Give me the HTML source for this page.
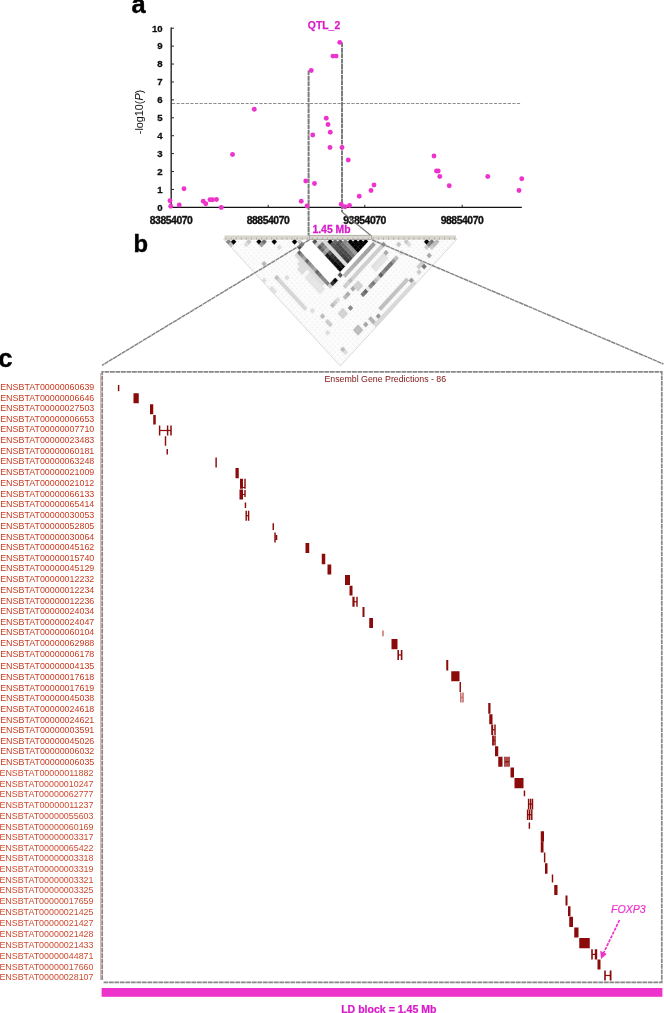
<!DOCTYPE html>
<html lang="en"><head><meta charset="utf-8"><title>QTL_2 LD block</title>
<style>html,body{margin:0;padding:0;background:#fff}svg{display:block}text{font-family:"Liberation Sans",sans-serif}</style>
</head><body>
<svg width="664" height="1013" viewBox="0 0 664 1013">
<rect width="664" height="1013" fill="#fff"/>
<g id="panel-a">
<text x="131.4" y="13.4" font-size="25.4" font-weight="bold" fill="#000" stroke="#000" stroke-width="0.4">a</text>
<line x1="171.2" y1="27.5" x2="171.2" y2="207.9" stroke="#333" stroke-width="1.5"/>
<line x1="170.5" y1="207.4" x2="521.8" y2="207.4" stroke="#111" stroke-width="1.4"/>
<text x="162.6" y="211" font-size="9.6" font-weight="bold" text-anchor="end" fill="#111" stroke="#111" stroke-width="0.3">0</text>
<line x1="171.2" y1="189.48" x2="174.0" y2="189.48" stroke="#222" stroke-width="1"/>
<text x="162.6" y="193" font-size="9.6" font-weight="bold" text-anchor="end" fill="#111" stroke="#111" stroke-width="0.3">1</text>
<line x1="171.2" y1="171.56" x2="174.0" y2="171.56" stroke="#222" stroke-width="1"/>
<text x="162.6" y="175" font-size="9.6" font-weight="bold" text-anchor="end" fill="#111" stroke="#111" stroke-width="0.3">2</text>
<line x1="171.2" y1="153.64" x2="174.0" y2="153.64" stroke="#222" stroke-width="1"/>
<text x="162.6" y="157" font-size="9.6" font-weight="bold" text-anchor="end" fill="#111" stroke="#111" stroke-width="0.3">3</text>
<line x1="171.2" y1="135.72" x2="174.0" y2="135.72" stroke="#222" stroke-width="1"/>
<text x="162.6" y="139" font-size="9.6" font-weight="bold" text-anchor="end" fill="#111" stroke="#111" stroke-width="0.3">4</text>
<line x1="171.2" y1="117.80" x2="174.0" y2="117.80" stroke="#222" stroke-width="1"/>
<text x="162.6" y="121" font-size="9.6" font-weight="bold" text-anchor="end" fill="#111" stroke="#111" stroke-width="0.3">5</text>
<line x1="171.2" y1="99.88" x2="174.0" y2="99.88" stroke="#222" stroke-width="1"/>
<text x="162.6" y="103" font-size="9.6" font-weight="bold" text-anchor="end" fill="#111" stroke="#111" stroke-width="0.3">6</text>
<line x1="171.2" y1="81.96" x2="174.0" y2="81.96" stroke="#222" stroke-width="1"/>
<text x="162.6" y="85" font-size="9.6" font-weight="bold" text-anchor="end" fill="#111" stroke="#111" stroke-width="0.3">7</text>
<line x1="171.2" y1="64.04" x2="174.0" y2="64.04" stroke="#222" stroke-width="1"/>
<text x="162.6" y="67" font-size="9.6" font-weight="bold" text-anchor="end" fill="#111" stroke="#111" stroke-width="0.3">8</text>
<line x1="171.2" y1="46.12" x2="174.0" y2="46.12" stroke="#222" stroke-width="1"/>
<text x="162.6" y="49" font-size="9.6" font-weight="bold" text-anchor="end" fill="#111" stroke="#111" stroke-width="0.3">9</text>
<line x1="171.2" y1="28.20" x2="174.0" y2="28.20" stroke="#222" stroke-width="1"/>
<text x="162.6" y="32" font-size="9.6" font-weight="bold" text-anchor="end" fill="#111" stroke="#111" stroke-width="0.3">10</text>
<text x="171.10000000000002" y="224.3" font-size="10.4" font-weight="bold" letter-spacing="-0.45" text-anchor="middle" fill="#111" stroke="#111" stroke-width="0.35">83854070</text>
<line x1="268.2" y1="207.4" x2="268.2" y2="204.8" stroke="#222" stroke-width="1"/>
<text x="268.0" y="224.3" font-size="10.4" font-weight="bold" letter-spacing="-0.45" text-anchor="middle" fill="#111" stroke="#111" stroke-width="0.35">88854070</text>
<line x1="364.8" y1="207.4" x2="364.8" y2="204.8" stroke="#222" stroke-width="1"/>
<text x="364.6" y="224.3" font-size="10.4" font-weight="bold" letter-spacing="-0.45" text-anchor="middle" fill="#111" stroke="#111" stroke-width="0.35">93854070</text>
<line x1="462.2" y1="207.4" x2="462.2" y2="204.8" stroke="#222" stroke-width="1"/>
<text x="462.0" y="224.3" font-size="10.4" font-weight="bold" letter-spacing="-0.45" text-anchor="middle" fill="#111" stroke="#111" stroke-width="0.35">98854070</text>
<text transform="translate(142.8,112) rotate(-90)" font-size="10.8" text-anchor="middle" fill="#111">-log10(<tspan font-style="italic">P</tspan>)</text>
<line x1="172.0" y1="103.5" x2="520.5" y2="103.5" stroke="#777" stroke-width="0.85" stroke-dasharray="3.1 1.5"/>
<line x1="308.6" y1="70.5" x2="308.6" y2="236" stroke="#7c7c7c" stroke-width="2" stroke-dasharray="4.8 0.6"/>
<line x1="342" y1="42.5" x2="342" y2="212" stroke="#7c7c7c" stroke-width="2" stroke-dasharray="4.8 0.6"/>
<line x1="342" y1="212" x2="371.5" y2="236" stroke="#777" stroke-width="1.2"/>
<circle cx="170" cy="200.75" r="2.45" fill="#ee33cc"/>
<circle cx="170.75" cy="206.25" r="2.45" fill="#ee33cc"/>
<circle cx="179.25" cy="205" r="2.45" fill="#ee33cc"/>
<circle cx="184" cy="188.75" r="2.45" fill="#ee33cc"/>
<circle cx="203.25" cy="201.25" r="2.45" fill="#ee33cc"/>
<circle cx="205.75" cy="203.75" r="2.45" fill="#ee33cc"/>
<circle cx="210" cy="199.75" r="2.45" fill="#ee33cc"/>
<circle cx="212.5" cy="199.75" r="2.45" fill="#ee33cc"/>
<circle cx="216.5" cy="199.5" r="2.45" fill="#ee33cc"/>
<circle cx="221.25" cy="207.5" r="2.45" fill="#ee33cc"/>
<circle cx="232.5" cy="154.5" r="2.45" fill="#ee33cc"/>
<circle cx="254.25" cy="109.25" r="2.45" fill="#ee33cc"/>
<circle cx="339.76" cy="42.4" r="2.45" fill="#ee33cc"/>
<circle cx="332.9" cy="56.1" r="2.45" fill="#ee33cc"/>
<circle cx="336.1" cy="56.1" r="2.45" fill="#ee33cc"/>
<circle cx="311.25" cy="70.5" r="2.45" fill="#ee33cc"/>
<circle cx="326.25" cy="118.25" r="2.45" fill="#ee33cc"/>
<circle cx="328" cy="124.5" r="2.45" fill="#ee33cc"/>
<circle cx="330.25" cy="132.25" r="2.45" fill="#ee33cc"/>
<circle cx="312.75" cy="135" r="2.45" fill="#ee33cc"/>
<circle cx="330" cy="147.5" r="2.45" fill="#ee33cc"/>
<circle cx="342" cy="147.5" r="2.45" fill="#ee33cc"/>
<circle cx="348.25" cy="160" r="2.45" fill="#ee33cc"/>
<circle cx="305.75" cy="181" r="2.45" fill="#ee33cc"/>
<circle cx="314.5" cy="183.5" r="2.45" fill="#ee33cc"/>
<circle cx="301.25" cy="201.25" r="2.45" fill="#ee33cc"/>
<circle cx="307" cy="206" r="2.45" fill="#ee33cc"/>
<circle cx="341.25" cy="204.25" r="2.45" fill="#ee33cc"/>
<circle cx="345" cy="206.75" r="2.45" fill="#ee33cc"/>
<circle cx="349.5" cy="205.5" r="2.45" fill="#ee33cc"/>
<circle cx="359.25" cy="196.25" r="2.45" fill="#ee33cc"/>
<circle cx="371" cy="190.5" r="2.45" fill="#ee33cc"/>
<circle cx="374" cy="185" r="2.45" fill="#ee33cc"/>
<circle cx="434" cy="156" r="2.45" fill="#ee33cc"/>
<circle cx="436.5" cy="171" r="2.45" fill="#ee33cc"/>
<circle cx="438.25" cy="171" r="2.45" fill="#ee33cc"/>
<circle cx="439.75" cy="176.5" r="2.45" fill="#ee33cc"/>
<circle cx="449.25" cy="185.75" r="2.45" fill="#ee33cc"/>
<circle cx="487.75" cy="176.5" r="2.45" fill="#ee33cc"/>
<circle cx="521.75" cy="178.75" r="2.45" fill="#ee33cc"/>
<circle cx="519" cy="190.5" r="2.45" fill="#ee33cc"/>
<text x="324" y="29.4" font-size="10.4" font-weight="bold" text-anchor="middle" fill="#d81cca" stroke="#d81cca" stroke-width="0.25">QTL_2</text>
<text x="331.5" y="232.5" font-size="10.4" font-weight="bold" text-anchor="middle" fill="#d81cca" stroke="#d81cca" stroke-width="0.3">1.45 Mb</text>
</g>
<g id="panel-b">
<text x="133.6" y="251.7" font-size="23.8" font-weight="bold" fill="#000" stroke="#000" stroke-width="0.4">b</text>
<defs><pattern id="dots" patternUnits="userSpaceOnUse" x="223.46" y="236.24" width="5.08" height="5.52"><rect width="5.08" height="5.52" fill="#fcfcfc"/><circle cx="2.54" cy="2.76" r="0.5" fill="#d6d6d6"/><circle cx="0" cy="0" r="0.5" fill="#d6d6d6"/><circle cx="5.08" cy="0" r="0.5" fill="#d6d6d6"/><circle cx="0" cy="5.52" r="0.5" fill="#d6d6d6"/><circle cx="5.08" cy="5.52" r="0.5" fill="#d6d6d6"/></pattern></defs>
<polygon points="223.5,239.0 457.1,239.0 340.3,366.0" fill="url(#dots)" stroke="#cfcfcf" stroke-width="0.8"/>
<polygon points="226.00,241.76 228.54,239.00 231.08,241.76 228.54,244.52" fill="#888888" stroke="#888888" stroke-width="0.35"/>
<polygon points="228.54,244.52 231.08,241.76 233.62,244.52 231.08,247.28" fill="#bbbbbb" stroke="#bbbbbb" stroke-width="0.35"/>
<polygon points="261.56,280.40 264.10,277.64 266.64,280.40 264.10,283.16" fill="#dddddd" stroke="#dddddd" stroke-width="0.35"/>
<polygon points="269.18,288.68 271.72,285.92 274.26,288.68 271.72,291.44" fill="#dddddd" stroke="#dddddd" stroke-width="0.35"/>
<polygon points="271.72,291.44 274.26,288.68 276.80,291.44 274.26,294.20" fill="#e0e0e0" stroke="#e0e0e0" stroke-width="0.35"/>
<polygon points="231.08,241.76 233.62,239.00 236.16,241.76 233.62,244.52" fill="#000000" stroke="#000000" stroke-width="0.35"/>
<polygon points="243.78,244.52 246.32,241.76 248.86,244.52 246.32,247.28" fill="#dddddd" stroke="#dddddd" stroke-width="0.35"/>
<polygon points="261.56,263.84 264.10,261.08 266.64,263.84 264.10,266.60" fill="#b8b8b8" stroke="#b8b8b8" stroke-width="0.35"/>
<polygon points="274.26,277.64 276.80,274.88 279.34,277.64 276.80,280.40" fill="#c0c0c0" stroke="#c0c0c0" stroke-width="0.35"/>
<polygon points="276.80,280.40 279.34,277.64 281.88,280.40 279.34,283.16" fill="#d4d4d4" stroke="#d4d4d4" stroke-width="0.35"/>
<polygon points="279.34,283.16 281.88,280.40 284.42,283.16 281.88,285.92" fill="#d4d4d4" stroke="#d4d4d4" stroke-width="0.35"/>
<polygon points="281.88,285.92 284.42,283.16 286.96,285.92 284.42,288.68" fill="#d4d4d4" stroke="#d4d4d4" stroke-width="0.35"/>
<polygon points="284.42,288.68 286.96,285.92 289.50,288.68 286.96,291.44" fill="#d5d5d5" stroke="#d5d5d5" stroke-width="0.35"/>
<polygon points="286.96,291.44 289.50,288.68 292.04,291.44 289.50,294.20" fill="#d5d5d5" stroke="#d5d5d5" stroke-width="0.35"/>
<polygon points="289.50,294.20 292.04,291.44 294.58,294.20 292.04,296.96" fill="#d5d5d5" stroke="#d5d5d5" stroke-width="0.35"/>
<polygon points="292.04,296.96 294.58,294.20 297.12,296.96 294.58,299.72" fill="#d5d5d5" stroke="#d5d5d5" stroke-width="0.35"/>
<polygon points="294.58,299.72 297.12,296.96 299.66,299.72 297.12,302.48" fill="#d5d5d5" stroke="#d5d5d5" stroke-width="0.35"/>
<polygon points="297.12,302.48 299.66,299.72 302.20,302.48 299.66,305.24" fill="#d6d6d6" stroke="#d6d6d6" stroke-width="0.35"/>
<polygon points="299.66,305.24 302.20,302.48 304.74,305.24 302.20,308.00" fill="#d6d6d6" stroke="#d6d6d6" stroke-width="0.35"/>
<polygon points="302.20,308.00 304.74,305.24 307.28,308.00 304.74,310.76" fill="#d6d6d6" stroke="#d6d6d6" stroke-width="0.35"/>
<polygon points="325.06,332.84 327.60,330.08 330.14,332.84 327.60,335.60" fill="#dddddd" stroke="#dddddd" stroke-width="0.35"/>
<polygon points="340.30,349.40 342.84,346.64 345.38,349.40 342.84,352.16" fill="#bbbbbb" stroke="#bbbbbb" stroke-width="0.35"/>
<polygon points="342.84,352.16 345.38,349.40 347.92,352.16 345.38,354.92" fill="#dddddd" stroke="#dddddd" stroke-width="0.35"/>
<polygon points="246.32,241.76 248.86,239.00 251.40,241.76 248.86,244.52" fill="#c8c8c8" stroke="#c8c8c8" stroke-width="0.35"/>
<polygon points="309.82,310.76 312.36,308.00 314.90,310.76 312.36,313.52" fill="#dddddd" stroke="#dddddd" stroke-width="0.35"/>
<polygon points="284.42,277.64 286.96,274.88 289.50,277.64 286.96,280.40" fill="#dddddd" stroke="#dddddd" stroke-width="0.35"/>
<polygon points="319.98,316.28 322.52,313.52 325.06,316.28 322.52,319.04" fill="#bbbbbb" stroke="#bbbbbb" stroke-width="0.35"/>
<polygon points="325.06,321.80 327.60,319.04 330.14,321.80 327.60,324.56" fill="#cccccc" stroke="#cccccc" stroke-width="0.35"/>
<polygon points="327.60,324.56 330.14,321.80 332.68,324.56 330.14,327.32" fill="#cccccc" stroke="#cccccc" stroke-width="0.35"/>
<polygon points="256.48,241.76 259.02,239.00 261.56,241.76 259.02,244.52" fill="#000000" stroke="#000000" stroke-width="0.35"/>
<polygon points="259.02,244.52 261.56,241.76 264.10,244.52 261.56,247.28" fill="#999999" stroke="#999999" stroke-width="0.35"/>
<polygon points="261.56,241.76 264.10,239.00 266.64,241.76 264.10,244.52" fill="#707070" stroke="#707070" stroke-width="0.35"/>
<polygon points="271.72,241.76 274.26,239.00 276.80,241.76 274.26,244.52" fill="#000000" stroke="#000000" stroke-width="0.35"/>
<polygon points="276.80,247.28 279.34,244.52 281.88,247.28 279.34,250.04" fill="#dddddd" stroke="#dddddd" stroke-width="0.35"/>
<polygon points="297.12,269.36 299.66,266.60 302.20,269.36 299.66,272.12" fill="#dcdcdc" stroke="#dcdcdc" stroke-width="0.35"/>
<polygon points="299.66,272.12 302.20,269.36 304.74,272.12 302.20,274.88" fill="#dcdcdc" stroke="#dcdcdc" stroke-width="0.35"/>
<polygon points="304.74,277.64 307.28,274.88 309.82,277.64 307.28,280.40" fill="#e4e4e4" stroke="#e4e4e4" stroke-width="0.35"/>
<polygon points="307.28,280.40 309.82,277.64 312.36,280.40 309.82,283.16" fill="#e4e4e4" stroke="#e4e4e4" stroke-width="0.35"/>
<polygon points="309.82,283.16 312.36,280.40 314.90,283.16 312.36,285.92" fill="#e4e4e4" stroke="#e4e4e4" stroke-width="0.35"/>
<polygon points="312.36,285.92 314.90,283.16 317.44,285.92 314.90,288.68" fill="#e4e4e4" stroke="#e4e4e4" stroke-width="0.35"/>
<polygon points="314.90,288.68 317.44,285.92 319.98,288.68 317.44,291.44" fill="#e4e4e4" stroke="#e4e4e4" stroke-width="0.35"/>
<polygon points="317.44,291.44 319.98,288.68 322.52,291.44 319.98,294.20" fill="#e4e4e4" stroke="#e4e4e4" stroke-width="0.35"/>
<polygon points="330.14,305.24 332.68,302.48 335.22,305.24 332.68,308.00" fill="#bbbbbb" stroke="#bbbbbb" stroke-width="0.35"/>
<polygon points="337.76,313.52 340.30,310.76 342.84,313.52 340.30,316.28" fill="#d2d2d2" stroke="#d2d2d2" stroke-width="0.35"/>
<polygon points="340.30,316.28 342.84,313.52 345.38,316.28 342.84,319.04" fill="#d2d2d2" stroke="#d2d2d2" stroke-width="0.35"/>
<polygon points="353.00,330.08 355.54,327.32 358.08,330.08 355.54,332.84" fill="#bbbbbb" stroke="#bbbbbb" stroke-width="0.35"/>
<polygon points="355.54,332.84 358.08,330.08 360.62,332.84 358.08,335.60" fill="#bbbbbb" stroke="#bbbbbb" stroke-width="0.35"/>
<polygon points="297.12,263.84 299.66,261.08 302.20,263.84 299.66,266.60" fill="#dcdcdc" stroke="#dcdcdc" stroke-width="0.35"/>
<polygon points="299.66,266.60 302.20,263.84 304.74,266.60 302.20,269.36" fill="#dcdcdc" stroke="#dcdcdc" stroke-width="0.35"/>
<polygon points="302.20,269.36 304.74,266.60 307.28,269.36 304.74,272.12" fill="#dcdcdc" stroke="#dcdcdc" stroke-width="0.35"/>
<polygon points="307.28,274.88 309.82,272.12 312.36,274.88 309.82,277.64" fill="#e4e4e4" stroke="#e4e4e4" stroke-width="0.35"/>
<polygon points="309.82,277.64 312.36,274.88 314.90,277.64 312.36,280.40" fill="#e4e4e4" stroke="#e4e4e4" stroke-width="0.35"/>
<polygon points="312.36,280.40 314.90,277.64 317.44,280.40 314.90,283.16" fill="#e4e4e4" stroke="#e4e4e4" stroke-width="0.35"/>
<polygon points="314.90,283.16 317.44,280.40 319.98,283.16 317.44,285.92" fill="#e4e4e4" stroke="#e4e4e4" stroke-width="0.35"/>
<polygon points="317.44,285.92 319.98,283.16 322.52,285.92 319.98,288.68" fill="#e4e4e4" stroke="#e4e4e4" stroke-width="0.35"/>
<polygon points="319.98,288.68 322.52,285.92 325.06,288.68 322.52,291.44" fill="#e4e4e4" stroke="#e4e4e4" stroke-width="0.35"/>
<polygon points="332.68,302.48 335.22,299.72 337.76,302.48 335.22,305.24" fill="#cccccc" stroke="#cccccc" stroke-width="0.35"/>
<polygon points="340.30,310.76 342.84,308.00 345.38,310.76 342.84,313.52" fill="#d2d2d2" stroke="#d2d2d2" stroke-width="0.35"/>
<polygon points="342.84,313.52 345.38,310.76 347.92,313.52 345.38,316.28" fill="#d2d2d2" stroke="#d2d2d2" stroke-width="0.35"/>
<polygon points="355.54,327.32 358.08,324.56 360.62,327.32 358.08,330.08" fill="#bbbbbb" stroke="#bbbbbb" stroke-width="0.35"/>
<polygon points="358.08,330.08 360.62,327.32 363.16,330.08 360.62,332.84" fill="#bbbbbb" stroke="#bbbbbb" stroke-width="0.35"/>
<polygon points="294.58,255.56 297.12,252.80 299.66,255.56 297.12,258.32" fill="#d8d8d8" stroke="#d8d8d8" stroke-width="0.35"/>
<polygon points="297.12,258.32 299.66,255.56 302.20,258.32 299.66,261.08" fill="#d8d8d8" stroke="#d8d8d8" stroke-width="0.35"/>
<polygon points="299.66,261.08 302.20,258.32 304.74,261.08 302.20,263.84" fill="#d9d9d9" stroke="#d9d9d9" stroke-width="0.35"/>
<polygon points="302.20,263.84 304.74,261.08 307.28,263.84 304.74,266.60" fill="#d9d9d9" stroke="#d9d9d9" stroke-width="0.35"/>
<polygon points="304.74,266.60 307.28,263.84 309.82,266.60 307.28,269.36" fill="#dadada" stroke="#dadada" stroke-width="0.35"/>
<polygon points="307.28,269.36 309.82,266.60 312.36,269.36 309.82,272.12" fill="#dadada" stroke="#dadada" stroke-width="0.35"/>
<polygon points="309.82,272.12 312.36,269.36 314.90,272.12 312.36,274.88" fill="#dadada" stroke="#dadada" stroke-width="0.35"/>
<polygon points="312.36,274.88 314.90,272.12 317.44,274.88 314.90,277.64" fill="#dbdbdb" stroke="#dbdbdb" stroke-width="0.35"/>
<polygon points="314.90,277.64 317.44,274.88 319.98,277.64 317.44,280.40" fill="#dbdbdb" stroke="#dbdbdb" stroke-width="0.35"/>
<polygon points="317.44,280.40 319.98,277.64 322.52,280.40 319.98,283.16" fill="#dcdcdc" stroke="#dcdcdc" stroke-width="0.35"/>
<polygon points="319.98,283.16 322.52,280.40 325.06,283.16 322.52,285.92" fill="#dcdcdc" stroke="#dcdcdc" stroke-width="0.35"/>
<polygon points="335.22,299.72 337.76,296.96 340.30,299.72 337.76,302.48" fill="#dddddd" stroke="#dddddd" stroke-width="0.35"/>
<polygon points="297.12,252.80 299.66,250.04 302.20,252.80 299.66,255.56" fill="#666666" stroke="#666666" stroke-width="0.35"/>
<polygon points="299.66,255.56 302.20,252.80 304.74,255.56 302.20,258.32" fill="#888888" stroke="#888888" stroke-width="0.35"/>
<polygon points="302.20,258.32 304.74,255.56 307.28,258.32 304.74,261.08" fill="#a4a4a4" stroke="#a4a4a4" stroke-width="0.35"/>
<polygon points="304.74,261.08 307.28,258.32 309.82,261.08 307.28,263.84" fill="#666666" stroke="#666666" stroke-width="0.35"/>
<polygon points="307.28,263.84 309.82,261.08 312.36,263.84 309.82,266.60" fill="#888888" stroke="#888888" stroke-width="0.35"/>
<polygon points="309.82,266.60 312.36,263.84 314.90,266.60 312.36,269.36" fill="#999999" stroke="#999999" stroke-width="0.35"/>
<polygon points="312.36,269.36 314.90,266.60 317.44,269.36 314.90,272.12" fill="#a4a4a4" stroke="#a4a4a4" stroke-width="0.35"/>
<polygon points="314.90,272.12 317.44,269.36 319.98,272.12 317.44,274.88" fill="#666666" stroke="#666666" stroke-width="0.35"/>
<polygon points="317.44,274.88 319.98,272.12 322.52,274.88 319.98,277.64" fill="#777777" stroke="#777777" stroke-width="0.35"/>
<polygon points="319.98,277.64 322.52,274.88 325.06,277.64 322.52,280.40" fill="#888888" stroke="#888888" stroke-width="0.35"/>
<polygon points="322.52,280.40 325.06,277.64 327.60,280.40 325.06,283.16" fill="#888888" stroke="#888888" stroke-width="0.35"/>
<polygon points="325.06,283.16 327.60,280.40 330.14,283.16 327.60,285.92" fill="#808080" stroke="#808080" stroke-width="0.35"/>
<polygon points="327.60,285.92 330.14,283.16 332.68,285.92 330.14,288.68" fill="#cccccc" stroke="#cccccc" stroke-width="0.35"/>
<polygon points="347.92,308.00 350.46,305.24 353.00,308.00 350.46,310.76" fill="#888888" stroke="#888888" stroke-width="0.35"/>
<polygon points="363.16,324.56 365.70,321.80 368.24,324.56 365.70,327.32" fill="#a4a4a4" stroke="#a4a4a4" stroke-width="0.35"/>
<polygon points="292.04,241.76 294.58,239.00 297.12,241.76 294.58,244.52" fill="#000000" stroke="#000000" stroke-width="0.35"/>
<polygon points="297.12,247.28 299.66,244.52 302.20,247.28 299.66,250.04" fill="#484848" stroke="#484848" stroke-width="0.35"/>
<polygon points="299.66,250.04 302.20,247.28 304.74,250.04 302.20,252.80" fill="#ffffff" stroke="#ffffff" stroke-width="0.35"/>
<polygon points="302.20,252.80 304.74,250.04 307.28,252.80 304.74,255.56" fill="#ffffff" stroke="#ffffff" stroke-width="0.35"/>
<polygon points="304.74,255.56 307.28,252.80 309.82,255.56 307.28,258.32" fill="#ffffff" stroke="#ffffff" stroke-width="0.35"/>
<polygon points="307.28,258.32 309.82,255.56 312.36,258.32 309.82,261.08" fill="#ffffff" stroke="#ffffff" stroke-width="0.35"/>
<polygon points="309.82,261.08 312.36,258.32 314.90,261.08 312.36,263.84" fill="#ffffff" stroke="#ffffff" stroke-width="0.35"/>
<polygon points="312.36,263.84 314.90,261.08 317.44,263.84 314.90,266.60" fill="#ffffff" stroke="#ffffff" stroke-width="0.35"/>
<polygon points="314.90,266.60 317.44,263.84 319.98,266.60 317.44,269.36" fill="#ffffff" stroke="#ffffff" stroke-width="0.35"/>
<polygon points="317.44,269.36 319.98,266.60 322.52,269.36 319.98,272.12" fill="#ffffff" stroke="#ffffff" stroke-width="0.35"/>
<polygon points="319.98,272.12 322.52,269.36 325.06,272.12 322.52,274.88" fill="#ffffff" stroke="#ffffff" stroke-width="0.35"/>
<polygon points="322.52,274.88 325.06,272.12 327.60,274.88 325.06,277.64" fill="#ffffff" stroke="#ffffff" stroke-width="0.35"/>
<polygon points="325.06,277.64 327.60,274.88 330.14,277.64 327.60,280.40" fill="#ffffff" stroke="#ffffff" stroke-width="0.35"/>
<polygon points="327.60,280.40 330.14,277.64 332.68,280.40 330.14,283.16" fill="#ffffff" stroke="#ffffff" stroke-width="0.35"/>
<polygon points="330.14,283.16 332.68,280.40 335.22,283.16 332.68,285.92" fill="#303030" stroke="#303030" stroke-width="0.35"/>
<polygon points="342.84,296.96 345.38,294.20 347.92,296.96 345.38,299.72" fill="#bbbbbb" stroke="#bbbbbb" stroke-width="0.35"/>
<polygon points="297.12,241.76 299.66,239.00 302.20,241.76 299.66,244.52" fill="#c8c8c8" stroke="#c8c8c8" stroke-width="0.35"/>
<polygon points="299.66,244.52 302.20,241.76 304.74,244.52 302.20,247.28" fill="#707070" stroke="#707070" stroke-width="0.35"/>
<polygon points="302.20,247.28 304.74,244.52 307.28,247.28 304.74,250.04" fill="#ffffff" stroke="#ffffff" stroke-width="0.35"/>
<polygon points="304.74,250.04 307.28,247.28 309.82,250.04 307.28,252.80" fill="#ffffff" stroke="#ffffff" stroke-width="0.35"/>
<polygon points="307.28,252.80 309.82,250.04 312.36,252.80 309.82,255.56" fill="#ffffff" stroke="#ffffff" stroke-width="0.35"/>
<polygon points="309.82,255.56 312.36,252.80 314.90,255.56 312.36,258.32" fill="#ffffff" stroke="#ffffff" stroke-width="0.35"/>
<polygon points="312.36,258.32 314.90,255.56 317.44,258.32 314.90,261.08" fill="#ffffff" stroke="#ffffff" stroke-width="0.35"/>
<polygon points="314.90,261.08 317.44,258.32 319.98,261.08 317.44,263.84" fill="#ffffff" stroke="#ffffff" stroke-width="0.35"/>
<polygon points="317.44,263.84 319.98,261.08 322.52,263.84 319.98,266.60" fill="#ffffff" stroke="#ffffff" stroke-width="0.35"/>
<polygon points="319.98,266.60 322.52,263.84 325.06,266.60 322.52,269.36" fill="#ffffff" stroke="#ffffff" stroke-width="0.35"/>
<polygon points="322.52,269.36 325.06,266.60 327.60,269.36 325.06,272.12" fill="#ffffff" stroke="#ffffff" stroke-width="0.35"/>
<polygon points="325.06,272.12 327.60,269.36 330.14,272.12 327.60,274.88" fill="#ffffff" stroke="#ffffff" stroke-width="0.35"/>
<polygon points="327.60,274.88 330.14,272.12 332.68,274.88 330.14,277.64" fill="#ffffff" stroke="#ffffff" stroke-width="0.35"/>
<polygon points="330.14,277.64 332.68,274.88 335.22,277.64 332.68,280.40" fill="#ffffff" stroke="#ffffff" stroke-width="0.35"/>
<polygon points="332.68,280.40 335.22,277.64 337.76,280.40 335.22,283.16" fill="#080808" stroke="#080808" stroke-width="0.35"/>
<polygon points="345.38,294.20 347.92,291.44 350.46,294.20 347.92,296.96" fill="#aaaaaa" stroke="#aaaaaa" stroke-width="0.35"/>
<polygon points="368.24,319.04 370.78,316.28 373.32,319.04 370.78,321.80" fill="#b4b4b4" stroke="#b4b4b4" stroke-width="0.35"/>
<polygon points="370.78,321.80 373.32,319.04 375.86,321.80 373.32,324.56" fill="#b4b4b4" stroke="#b4b4b4" stroke-width="0.35"/>
<polygon points="373.32,324.56 375.86,321.80 378.40,324.56 375.86,327.32" fill="#d8d8d8" stroke="#d8d8d8" stroke-width="0.35"/>
<polygon points="302.20,241.76 304.74,239.00 307.28,241.76 304.74,244.52" fill="#ffffff" stroke="#ffffff" stroke-width="0.35"/>
<polygon points="304.74,244.52 307.28,241.76 309.82,244.52 307.28,247.28" fill="#ffffff" stroke="#ffffff" stroke-width="0.35"/>
<polygon points="307.28,247.28 309.82,244.52 312.36,247.28 309.82,250.04" fill="#ffffff" stroke="#ffffff" stroke-width="0.35"/>
<polygon points="309.82,250.04 312.36,247.28 314.90,250.04 312.36,252.80" fill="#ffffff" stroke="#ffffff" stroke-width="0.35"/>
<polygon points="312.36,252.80 314.90,250.04 317.44,252.80 314.90,255.56" fill="#ffffff" stroke="#ffffff" stroke-width="0.35"/>
<polygon points="314.90,255.56 317.44,252.80 319.98,255.56 317.44,258.32" fill="#ffffff" stroke="#ffffff" stroke-width="0.35"/>
<polygon points="317.44,258.32 319.98,255.56 322.52,258.32 319.98,261.08" fill="#ffffff" stroke="#ffffff" stroke-width="0.35"/>
<polygon points="319.98,261.08 322.52,258.32 325.06,261.08 322.52,263.84" fill="#ffffff" stroke="#ffffff" stroke-width="0.35"/>
<polygon points="322.52,263.84 325.06,261.08 327.60,263.84 325.06,266.60" fill="#ffffff" stroke="#ffffff" stroke-width="0.35"/>
<polygon points="325.06,266.60 327.60,263.84 330.14,266.60 327.60,269.36" fill="#ffffff" stroke="#ffffff" stroke-width="0.35"/>
<polygon points="327.60,269.36 330.14,266.60 332.68,269.36 330.14,272.12" fill="#ffffff" stroke="#ffffff" stroke-width="0.35"/>
<polygon points="330.14,272.12 332.68,269.36 335.22,272.12 332.68,274.88" fill="#ffffff" stroke="#ffffff" stroke-width="0.35"/>
<polygon points="332.68,274.88 335.22,272.12 337.76,274.88 335.22,277.64" fill="#ffffff" stroke="#ffffff" stroke-width="0.35"/>
<polygon points="342.84,285.92 345.38,283.16 347.92,285.92 345.38,288.68" fill="#cccccc" stroke="#cccccc" stroke-width="0.35"/>
<polygon points="375.86,321.80 378.40,319.04 380.94,321.80 378.40,324.56" fill="#d8d8d8" stroke="#d8d8d8" stroke-width="0.35"/>
<polygon points="307.28,241.76 309.82,239.00 312.36,241.76 309.82,244.52" fill="#ffffff" stroke="#ffffff" stroke-width="0.35"/>
<polygon points="309.82,244.52 312.36,241.76 314.90,244.52 312.36,247.28" fill="#ffffff" stroke="#ffffff" stroke-width="0.35"/>
<polygon points="312.36,247.28 314.90,244.52 317.44,247.28 314.90,250.04" fill="#ffffff" stroke="#ffffff" stroke-width="0.35"/>
<polygon points="314.90,250.04 317.44,247.28 319.98,250.04 317.44,252.80" fill="#ffffff" stroke="#ffffff" stroke-width="0.35"/>
<polygon points="317.44,252.80 319.98,250.04 322.52,252.80 319.98,255.56" fill="#ffffff" stroke="#ffffff" stroke-width="0.35"/>
<polygon points="319.98,255.56 322.52,252.80 325.06,255.56 322.52,258.32" fill="#ffffff" stroke="#ffffff" stroke-width="0.35"/>
<polygon points="322.52,258.32 325.06,255.56 327.60,258.32 325.06,261.08" fill="#ffffff" stroke="#ffffff" stroke-width="0.35"/>
<polygon points="325.06,261.08 327.60,258.32 330.14,261.08 327.60,263.84" fill="#ffffff" stroke="#ffffff" stroke-width="0.35"/>
<polygon points="327.60,263.84 330.14,261.08 332.68,263.84 330.14,266.60" fill="#ffffff" stroke="#ffffff" stroke-width="0.35"/>
<polygon points="330.14,266.60 332.68,263.84 335.22,266.60 332.68,269.36" fill="#ffffff" stroke="#ffffff" stroke-width="0.35"/>
<polygon points="332.68,269.36 335.22,266.60 337.76,269.36 335.22,272.12" fill="#ffffff" stroke="#ffffff" stroke-width="0.35"/>
<polygon points="335.22,272.12 337.76,269.36 340.30,272.12 337.76,274.88" fill="#ffffff" stroke="#ffffff" stroke-width="0.35"/>
<polygon points="337.76,274.88 340.30,272.12 342.84,274.88 340.30,277.64" fill="#555555" stroke="#555555" stroke-width="0.35"/>
<polygon points="345.38,283.16 347.92,280.40 350.46,283.16 347.92,285.92" fill="#d0d0d0" stroke="#d0d0d0" stroke-width="0.35"/>
<polygon points="350.46,288.68 353.00,285.92 355.54,288.68 353.00,291.44" fill="#aaaaaa" stroke="#aaaaaa" stroke-width="0.35"/>
<polygon points="375.86,316.28 378.40,313.52 380.94,316.28 378.40,319.04" fill="#999999" stroke="#999999" stroke-width="0.35"/>
<polygon points="378.40,319.04 380.94,316.28 383.48,319.04 380.94,321.80" fill="#d8d8d8" stroke="#d8d8d8" stroke-width="0.35"/>
<polygon points="312.36,241.76 314.90,239.00 317.44,241.76 314.90,244.52" fill="#555555" stroke="#555555" stroke-width="0.35"/>
<polygon points="314.90,244.52 317.44,241.76 319.98,244.52 317.44,247.28" fill="#cccccc" stroke="#cccccc" stroke-width="0.35"/>
<polygon points="317.44,247.28 319.98,244.52 322.52,247.28 319.98,250.04" fill="#555555" stroke="#555555" stroke-width="0.35"/>
<polygon points="319.98,250.04 322.52,247.28 325.06,250.04 322.52,252.80" fill="#6a6a6a" stroke="#6a6a6a" stroke-width="0.35"/>
<polygon points="322.52,252.80 325.06,250.04 327.60,252.80 325.06,255.56" fill="#999999" stroke="#999999" stroke-width="0.35"/>
<polygon points="325.06,255.56 327.60,252.80 330.14,255.56 327.60,258.32" fill="#1a1a1a" stroke="#1a1a1a" stroke-width="0.35"/>
<polygon points="327.60,258.32 330.14,255.56 332.68,258.32 330.14,261.08" fill="#151515" stroke="#151515" stroke-width="0.35"/>
<polygon points="330.14,261.08 332.68,258.32 335.22,261.08 332.68,263.84" fill="#101010" stroke="#101010" stroke-width="0.35"/>
<polygon points="332.68,263.84 335.22,261.08 337.76,263.84 335.22,266.60" fill="#0a0a0a" stroke="#0a0a0a" stroke-width="0.35"/>
<polygon points="335.22,266.60 337.76,263.84 340.30,266.60 337.76,269.36" fill="#050505" stroke="#050505" stroke-width="0.35"/>
<polygon points="337.76,269.36 340.30,266.60 342.84,269.36 340.30,272.12" fill="#000000" stroke="#000000" stroke-width="0.35"/>
<polygon points="340.30,272.12 342.84,269.36 345.38,272.12 342.84,274.88" fill="#ffffff" stroke="#ffffff" stroke-width="0.35"/>
<polygon points="342.84,274.88 345.38,272.12 347.92,274.88 345.38,277.64" fill="#b8b8b8" stroke="#b8b8b8" stroke-width="0.35"/>
<polygon points="347.92,280.40 350.46,277.64 353.00,280.40 350.46,283.16" fill="#bbbbbb" stroke="#bbbbbb" stroke-width="0.35"/>
<polygon points="353.00,285.92 355.54,283.16 358.08,285.92 355.54,288.68" fill="#d0d0d0" stroke="#d0d0d0" stroke-width="0.35"/>
<polygon points="355.54,288.68 358.08,285.92 360.62,288.68 358.08,291.44" fill="#d0d0d0" stroke="#d0d0d0" stroke-width="0.35"/>
<polygon points="360.62,294.20 363.16,291.44 365.70,294.20 363.16,296.96" fill="#777777" stroke="#777777" stroke-width="0.35"/>
<polygon points="380.94,316.28 383.48,313.52 386.02,316.28 383.48,319.04" fill="#d8d8d8" stroke="#d8d8d8" stroke-width="0.35"/>
<polygon points="317.44,241.76 319.98,239.00 322.52,241.76 319.98,244.52" fill="#dddddd" stroke="#dddddd" stroke-width="0.35"/>
<polygon points="319.98,244.52 322.52,241.76 325.06,244.52 322.52,247.28" fill="#777777" stroke="#777777" stroke-width="0.35"/>
<polygon points="322.52,247.28 325.06,244.52 327.60,247.28 325.06,250.04" fill="#8a8a8a" stroke="#8a8a8a" stroke-width="0.35"/>
<polygon points="325.06,250.04 327.60,247.28 330.14,250.04 327.60,252.80" fill="#aaaaaa" stroke="#aaaaaa" stroke-width="0.35"/>
<polygon points="327.60,252.80 330.14,250.04 332.68,252.80 330.14,255.56" fill="#555555" stroke="#555555" stroke-width="0.35"/>
<polygon points="330.14,255.56 332.68,252.80 335.22,255.56 332.68,258.32" fill="#333333" stroke="#333333" stroke-width="0.35"/>
<polygon points="332.68,258.32 335.22,255.56 337.76,258.32 335.22,261.08" fill="#2a2a2a" stroke="#2a2a2a" stroke-width="0.35"/>
<polygon points="335.22,261.08 337.76,258.32 340.30,261.08 337.76,263.84" fill="#222222" stroke="#222222" stroke-width="0.35"/>
<polygon points="337.76,263.84 340.30,261.08 342.84,263.84 340.30,266.60" fill="#191919" stroke="#191919" stroke-width="0.35"/>
<polygon points="340.30,266.60 342.84,263.84 345.38,266.60 342.84,269.36" fill="#101010" stroke="#101010" stroke-width="0.35"/>
<polygon points="342.84,269.36 345.38,266.60 347.92,269.36 345.38,272.12" fill="#ffffff" stroke="#ffffff" stroke-width="0.35"/>
<polygon points="345.38,272.12 347.92,269.36 350.46,272.12 347.92,274.88" fill="#b5b5b5" stroke="#b5b5b5" stroke-width="0.35"/>
<polygon points="350.46,277.64 353.00,274.88 355.54,277.64 353.00,280.40" fill="#cfcfcf" stroke="#cfcfcf" stroke-width="0.35"/>
<polygon points="355.54,283.16 358.08,280.40 360.62,283.16 358.08,285.92" fill="#d0d0d0" stroke="#d0d0d0" stroke-width="0.35"/>
<polygon points="358.08,285.92 360.62,283.16 363.16,285.92 360.62,288.68" fill="#d0d0d0" stroke="#d0d0d0" stroke-width="0.35"/>
<polygon points="363.16,291.44 365.70,288.68 368.24,291.44 365.70,294.20" fill="#666666" stroke="#666666" stroke-width="0.35"/>
<polygon points="378.40,308.00 380.94,305.24 383.48,308.00 380.94,310.76" fill="#bcbcbc" stroke="#bcbcbc" stroke-width="0.35"/>
<polygon points="383.48,313.52 386.02,310.76 388.56,313.52 386.02,316.28" fill="#d8d8d8" stroke="#d8d8d8" stroke-width="0.35"/>
<polygon points="322.52,241.76 325.06,239.00 327.60,241.76 325.06,244.52" fill="#d8d8d8" stroke="#d8d8d8" stroke-width="0.35"/>
<polygon points="325.06,244.52 327.60,241.76 330.14,244.52 327.60,247.28" fill="#d8d8d8" stroke="#d8d8d8" stroke-width="0.35"/>
<polygon points="327.60,247.28 330.14,244.52 332.68,247.28 330.14,250.04" fill="#d9d9d9" stroke="#d9d9d9" stroke-width="0.35"/>
<polygon points="330.14,250.04 332.68,247.28 335.22,250.04 332.68,252.80" fill="#dadada" stroke="#dadada" stroke-width="0.35"/>
<polygon points="332.68,252.80 335.22,250.04 337.76,252.80 335.22,255.56" fill="#dadada" stroke="#dadada" stroke-width="0.35"/>
<polygon points="335.22,255.56 337.76,252.80 340.30,255.56 337.76,258.32" fill="#dadada" stroke="#dadada" stroke-width="0.35"/>
<polygon points="337.76,258.32 340.30,255.56 342.84,258.32 340.30,261.08" fill="#dbdbdb" stroke="#dbdbdb" stroke-width="0.35"/>
<polygon points="340.30,261.08 342.84,258.32 345.38,261.08 342.84,263.84" fill="#dcdcdc" stroke="#dcdcdc" stroke-width="0.35"/>
<polygon points="342.84,263.84 345.38,261.08 347.92,263.84 345.38,266.60" fill="#dcdcdc" stroke="#dcdcdc" stroke-width="0.35"/>
<polygon points="345.38,266.60 347.92,263.84 350.46,266.60 347.92,269.36" fill="#ffffff" stroke="#ffffff" stroke-width="0.35"/>
<polygon points="347.92,269.36 350.46,266.60 353.00,269.36 350.46,272.12" fill="#b2b2b2" stroke="#b2b2b2" stroke-width="0.35"/>
<polygon points="353.00,274.88 355.54,272.12 358.08,274.88 355.54,277.64" fill="#cfcfcf" stroke="#cfcfcf" stroke-width="0.35"/>
<polygon points="365.70,288.68 368.24,285.92 370.78,288.68 368.24,291.44" fill="#e8e8e8" stroke="#e8e8e8" stroke-width="0.35"/>
<polygon points="380.94,305.24 383.48,302.48 386.02,305.24 383.48,308.00" fill="#bdbdbd" stroke="#bdbdbd" stroke-width="0.35"/>
<polygon points="386.02,310.76 388.56,308.00 391.10,310.76 388.56,313.52" fill="#d8d8d8" stroke="#d8d8d8" stroke-width="0.35"/>
<polygon points="327.60,241.76 330.14,239.00 332.68,241.76 330.14,244.52" fill="#000000" stroke="#000000" stroke-width="0.35"/>
<polygon points="330.14,244.52 332.68,241.76 335.22,244.52 332.68,247.28" fill="#585858" stroke="#585858" stroke-width="0.35"/>
<polygon points="332.68,247.28 335.22,244.52 337.76,247.28 335.22,250.04" fill="#525252" stroke="#525252" stroke-width="0.35"/>
<polygon points="335.22,250.04 337.76,247.28 340.30,250.04 337.76,252.80" fill="#4c4c4c" stroke="#4c4c4c" stroke-width="0.35"/>
<polygon points="337.76,252.80 340.30,250.04 342.84,252.80 340.30,255.56" fill="#464646" stroke="#464646" stroke-width="0.35"/>
<polygon points="340.30,255.56 342.84,252.80 345.38,255.56 342.84,258.32" fill="#3f3f3f" stroke="#3f3f3f" stroke-width="0.35"/>
<polygon points="342.84,258.32 345.38,255.56 347.92,258.32 345.38,261.08" fill="#393939" stroke="#393939" stroke-width="0.35"/>
<polygon points="345.38,261.08 347.92,258.32 350.46,261.08 347.92,263.84" fill="#333333" stroke="#333333" stroke-width="0.35"/>
<polygon points="347.92,263.84 350.46,261.08 353.00,263.84 350.46,266.60" fill="#ffffff" stroke="#ffffff" stroke-width="0.35"/>
<polygon points="350.46,266.60 353.00,263.84 355.54,266.60 353.00,269.36" fill="#b0b0b0" stroke="#b0b0b0" stroke-width="0.35"/>
<polygon points="355.54,272.12 358.08,269.36 360.62,272.12 358.08,274.88" fill="#cfcfcf" stroke="#cfcfcf" stroke-width="0.35"/>
<polygon points="368.24,285.92 370.78,283.16 373.32,285.92 370.78,288.68" fill="#888888" stroke="#888888" stroke-width="0.35"/>
<polygon points="383.48,302.48 386.02,299.72 388.56,302.48 386.02,305.24" fill="#bebebe" stroke="#bebebe" stroke-width="0.35"/>
<polygon points="388.56,308.00 391.10,305.24 393.64,308.00 391.10,310.76" fill="#d8d8d8" stroke="#d8d8d8" stroke-width="0.35"/>
<polygon points="332.68,241.76 335.22,239.00 337.76,241.76 335.22,244.52" fill="#666666" stroke="#666666" stroke-width="0.35"/>
<polygon points="335.22,244.52 337.76,241.76 340.30,244.52 337.76,247.28" fill="#4c4c4c" stroke="#4c4c4c" stroke-width="0.35"/>
<polygon points="337.76,247.28 340.30,244.52 342.84,247.28 340.30,250.04" fill="#4b4b4b" stroke="#4b4b4b" stroke-width="0.35"/>
<polygon points="340.30,250.04 342.84,247.28 345.38,250.04 342.84,252.80" fill="#4a4a4a" stroke="#4a4a4a" stroke-width="0.35"/>
<polygon points="342.84,252.80 345.38,250.04 347.92,252.80 345.38,255.56" fill="#4a4a4a" stroke="#4a4a4a" stroke-width="0.35"/>
<polygon points="345.38,255.56 347.92,252.80 350.46,255.56 347.92,258.32" fill="#494949" stroke="#494949" stroke-width="0.35"/>
<polygon points="347.92,258.32 350.46,255.56 353.00,258.32 350.46,261.08" fill="#484848" stroke="#484848" stroke-width="0.35"/>
<polygon points="350.46,261.08 353.00,258.32 355.54,261.08 353.00,263.84" fill="#ffffff" stroke="#ffffff" stroke-width="0.35"/>
<polygon points="353.00,263.84 355.54,261.08 358.08,263.84 355.54,266.60" fill="#adadad" stroke="#adadad" stroke-width="0.35"/>
<polygon points="358.08,269.36 360.62,266.60 363.16,269.36 360.62,272.12" fill="#cecece" stroke="#cecece" stroke-width="0.35"/>
<polygon points="370.78,283.16 373.32,280.40 375.86,283.16 373.32,285.92" fill="#777777" stroke="#777777" stroke-width="0.35"/>
<polygon points="386.02,299.72 388.56,296.96 391.10,299.72 388.56,302.48" fill="#bebebe" stroke="#bebebe" stroke-width="0.35"/>
<polygon points="391.10,305.24 393.64,302.48 396.18,305.24 393.64,308.00" fill="#d8d8d8" stroke="#d8d8d8" stroke-width="0.35"/>
<polygon points="337.76,241.76 340.30,239.00 342.84,241.76 340.30,244.52" fill="#555555" stroke="#555555" stroke-width="0.35"/>
<polygon points="340.30,244.52 342.84,241.76 345.38,244.52 342.84,247.28" fill="#707070" stroke="#707070" stroke-width="0.35"/>
<polygon points="342.84,247.28 345.38,244.52 347.92,247.28 345.38,250.04" fill="#717171" stroke="#717171" stroke-width="0.35"/>
<polygon points="345.38,250.04 347.92,247.28 350.46,250.04 347.92,252.80" fill="#727272" stroke="#727272" stroke-width="0.35"/>
<polygon points="347.92,252.80 350.46,250.04 353.00,252.80 350.46,255.56" fill="#737373" stroke="#737373" stroke-width="0.35"/>
<polygon points="350.46,255.56 353.00,252.80 355.54,255.56 353.00,258.32" fill="#747474" stroke="#747474" stroke-width="0.35"/>
<polygon points="353.00,258.32 355.54,255.56 358.08,258.32 355.54,261.08" fill="#ffffff" stroke="#ffffff" stroke-width="0.35"/>
<polygon points="355.54,261.08 358.08,258.32 360.62,261.08 358.08,263.84" fill="#aaaaaa" stroke="#aaaaaa" stroke-width="0.35"/>
<polygon points="360.62,266.60 363.16,263.84 365.70,266.60 363.16,269.36" fill="#cecece" stroke="#cecece" stroke-width="0.35"/>
<polygon points="373.32,280.40 375.86,277.64 378.40,280.40 375.86,283.16" fill="#bbbbbb" stroke="#bbbbbb" stroke-width="0.35"/>
<polygon points="388.56,296.96 391.10,294.20 393.64,296.96 391.10,299.72" fill="#bfbfbf" stroke="#bfbfbf" stroke-width="0.35"/>
<polygon points="393.64,302.48 396.18,299.72 398.72,302.48 396.18,305.24" fill="#d8d8d8" stroke="#d8d8d8" stroke-width="0.35"/>
<polygon points="342.84,241.76 345.38,239.00 347.92,241.76 345.38,244.52" fill="#888888" stroke="#888888" stroke-width="0.35"/>
<polygon points="345.38,244.52 347.92,241.76 350.46,244.52 347.92,247.28" fill="#949494" stroke="#949494" stroke-width="0.35"/>
<polygon points="347.92,247.28 350.46,244.52 353.00,247.28 350.46,250.04" fill="#959595" stroke="#959595" stroke-width="0.35"/>
<polygon points="350.46,250.04 353.00,247.28 355.54,250.04 353.00,252.80" fill="#979797" stroke="#979797" stroke-width="0.35"/>
<polygon points="353.00,252.80 355.54,250.04 358.08,252.80 355.54,255.56" fill="#989898" stroke="#989898" stroke-width="0.35"/>
<polygon points="355.54,255.56 358.08,252.80 360.62,255.56 358.08,258.32" fill="#ffffff" stroke="#ffffff" stroke-width="0.35"/>
<polygon points="358.08,258.32 360.62,255.56 363.16,258.32 360.62,261.08" fill="#a7a7a7" stroke="#a7a7a7" stroke-width="0.35"/>
<polygon points="363.16,263.84 365.70,261.08 368.24,263.84 365.70,266.60" fill="#cecece" stroke="#cecece" stroke-width="0.35"/>
<polygon points="375.86,277.64 378.40,274.88 380.94,277.64 378.40,280.40" fill="#cccccc" stroke="#cccccc" stroke-width="0.35"/>
<polygon points="391.10,294.20 393.64,291.44 396.18,294.20 393.64,296.96" fill="#c0c0c0" stroke="#c0c0c0" stroke-width="0.35"/>
<polygon points="396.18,299.72 398.72,296.96 401.26,299.72 398.72,302.48" fill="#d8d8d8" stroke="#d8d8d8" stroke-width="0.35"/>
<polygon points="347.92,241.76 350.46,239.00 353.00,241.76 350.46,244.52" fill="#000000" stroke="#000000" stroke-width="0.35"/>
<polygon points="350.46,244.52 353.00,241.76 355.54,244.52 353.00,247.28" fill="#000000" stroke="#000000" stroke-width="0.35"/>
<polygon points="353.00,247.28 355.54,244.52 358.08,247.28 355.54,250.04" fill="#000000" stroke="#000000" stroke-width="0.35"/>
<polygon points="355.54,250.04 358.08,247.28 360.62,250.04 358.08,252.80" fill="#000000" stroke="#000000" stroke-width="0.35"/>
<polygon points="358.08,252.80 360.62,250.04 363.16,252.80 360.62,255.56" fill="#ffffff" stroke="#ffffff" stroke-width="0.35"/>
<polygon points="360.62,255.56 363.16,252.80 365.70,255.56 363.16,258.32" fill="#a4a4a4" stroke="#a4a4a4" stroke-width="0.35"/>
<polygon points="365.70,261.08 368.24,258.32 370.78,261.08 368.24,263.84" fill="#cdcdcd" stroke="#cdcdcd" stroke-width="0.35"/>
<polygon points="370.78,266.60 373.32,263.84 375.86,266.60 373.32,269.36" fill="#e0e0e0" stroke="#e0e0e0" stroke-width="0.35"/>
<polygon points="373.32,269.36 375.86,266.60 378.40,269.36 375.86,272.12" fill="#e4e4e4" stroke="#e4e4e4" stroke-width="0.35"/>
<polygon points="378.40,274.88 380.94,272.12 383.48,274.88 380.94,277.64" fill="#606060" stroke="#606060" stroke-width="0.35"/>
<polygon points="393.64,291.44 396.18,288.68 398.72,291.44 396.18,294.20" fill="#c1c1c1" stroke="#c1c1c1" stroke-width="0.35"/>
<polygon points="398.72,296.96 401.26,294.20 403.80,296.96 401.26,299.72" fill="#d8d8d8" stroke="#d8d8d8" stroke-width="0.35"/>
<polygon points="353.00,241.76 355.54,239.00 358.08,241.76 355.54,244.52" fill="#000000" stroke="#000000" stroke-width="0.35"/>
<polygon points="355.54,244.52 358.08,241.76 360.62,244.52 358.08,247.28" fill="#000000" stroke="#000000" stroke-width="0.35"/>
<polygon points="358.08,247.28 360.62,244.52 363.16,247.28 360.62,250.04" fill="#000000" stroke="#000000" stroke-width="0.35"/>
<polygon points="360.62,250.04 363.16,247.28 365.70,250.04 363.16,252.80" fill="#ffffff" stroke="#ffffff" stroke-width="0.35"/>
<polygon points="363.16,252.80 365.70,250.04 368.24,252.80 365.70,255.56" fill="#a1a1a1" stroke="#a1a1a1" stroke-width="0.35"/>
<polygon points="368.24,258.32 370.78,255.56 373.32,258.32 370.78,261.08" fill="#cdcdcd" stroke="#cdcdcd" stroke-width="0.35"/>
<polygon points="373.32,263.84 375.86,261.08 378.40,263.84 375.86,266.60" fill="#e0e0e0" stroke="#e0e0e0" stroke-width="0.35"/>
<polygon points="375.86,266.60 378.40,263.84 380.94,266.60 378.40,269.36" fill="#e4e4e4" stroke="#e4e4e4" stroke-width="0.35"/>
<polygon points="380.94,272.12 383.48,269.36 386.02,272.12 383.48,274.88" fill="#888888" stroke="#888888" stroke-width="0.35"/>
<polygon points="396.18,288.68 398.72,285.92 401.26,288.68 398.72,291.44" fill="#c2c2c2" stroke="#c2c2c2" stroke-width="0.35"/>
<polygon points="401.26,294.20 403.80,291.44 406.34,294.20 403.80,296.96" fill="#d8d8d8" stroke="#d8d8d8" stroke-width="0.35"/>
<polygon points="358.08,241.76 360.62,239.00 363.16,241.76 360.62,244.52" fill="#000000" stroke="#000000" stroke-width="0.35"/>
<polygon points="360.62,244.52 363.16,241.76 365.70,244.52 363.16,247.28" fill="#000000" stroke="#000000" stroke-width="0.35"/>
<polygon points="363.16,247.28 365.70,244.52 368.24,247.28 365.70,250.04" fill="#ffffff" stroke="#ffffff" stroke-width="0.35"/>
<polygon points="365.70,250.04 368.24,247.28 370.78,250.04 368.24,252.80" fill="#9f9f9f" stroke="#9f9f9f" stroke-width="0.35"/>
<polygon points="370.78,255.56 373.32,252.80 375.86,255.56 373.32,258.32" fill="#cdcdcd" stroke="#cdcdcd" stroke-width="0.35"/>
<polygon points="375.86,261.08 378.40,258.32 380.94,261.08 378.40,263.84" fill="#e0e0e0" stroke="#e0e0e0" stroke-width="0.35"/>
<polygon points="378.40,263.84 380.94,261.08 383.48,263.84 380.94,266.60" fill="#e4e4e4" stroke="#e4e4e4" stroke-width="0.35"/>
<polygon points="383.48,269.36 386.02,266.60 388.56,269.36 386.02,272.12" fill="#777777" stroke="#777777" stroke-width="0.35"/>
<polygon points="398.72,285.92 401.26,283.16 403.80,285.92 401.26,288.68" fill="#c2c2c2" stroke="#c2c2c2" stroke-width="0.35"/>
<polygon points="403.80,291.44 406.34,288.68 408.88,291.44 406.34,294.20" fill="#d8d8d8" stroke="#d8d8d8" stroke-width="0.35"/>
<polygon points="363.16,241.76 365.70,239.00 368.24,241.76 365.70,244.52" fill="#000000" stroke="#000000" stroke-width="0.35"/>
<polygon points="365.70,244.52 368.24,241.76 370.78,244.52 368.24,247.28" fill="#ffffff" stroke="#ffffff" stroke-width="0.35"/>
<polygon points="368.24,247.28 370.78,244.52 373.32,247.28 370.78,250.04" fill="#9c9c9c" stroke="#9c9c9c" stroke-width="0.35"/>
<polygon points="373.32,252.80 375.86,250.04 378.40,252.80 375.86,255.56" fill="#cdcdcd" stroke="#cdcdcd" stroke-width="0.35"/>
<polygon points="378.40,258.32 380.94,255.56 383.48,258.32 380.94,261.08" fill="#e0e0e0" stroke="#e0e0e0" stroke-width="0.35"/>
<polygon points="380.94,261.08 383.48,258.32 386.02,261.08 383.48,263.84" fill="#e4e4e4" stroke="#e4e4e4" stroke-width="0.35"/>
<polygon points="386.02,266.60 388.56,263.84 391.10,266.60 388.56,269.36" fill="#777777" stroke="#777777" stroke-width="0.35"/>
<polygon points="401.26,283.16 403.80,280.40 406.34,283.16 403.80,285.92" fill="#c3c3c3" stroke="#c3c3c3" stroke-width="0.35"/>
<polygon points="406.34,288.68 408.88,285.92 411.42,288.68 408.88,291.44" fill="#d8d8d8" stroke="#d8d8d8" stroke-width="0.35"/>
<polygon points="368.24,241.76 370.78,239.00 373.32,241.76 370.78,244.52" fill="#ffffff" stroke="#ffffff" stroke-width="0.35"/>
<polygon points="370.78,244.52 373.32,241.76 375.86,244.52 373.32,247.28" fill="#999999" stroke="#999999" stroke-width="0.35"/>
<polygon points="375.86,250.04 378.40,247.28 380.94,250.04 378.40,252.80" fill="#cccccc" stroke="#cccccc" stroke-width="0.35"/>
<polygon points="380.94,255.56 383.48,252.80 386.02,255.56 383.48,258.32" fill="#e0e0e0" stroke="#e0e0e0" stroke-width="0.35"/>
<polygon points="383.48,258.32 386.02,255.56 388.56,258.32 386.02,261.08" fill="#e4e4e4" stroke="#e4e4e4" stroke-width="0.35"/>
<polygon points="388.56,263.84 391.10,261.08 393.64,263.84 391.10,266.60" fill="#707070" stroke="#707070" stroke-width="0.35"/>
<polygon points="403.80,280.40 406.34,277.64 408.88,280.40 406.34,283.16" fill="#c4c4c4" stroke="#c4c4c4" stroke-width="0.35"/>
<polygon points="408.88,285.92 411.42,283.16 413.96,285.92 411.42,288.68" fill="#d8d8d8" stroke="#d8d8d8" stroke-width="0.35"/>
<polygon points="373.32,241.76 375.86,239.00 378.40,241.76 375.86,244.52" fill="#eeeeee" stroke="#eeeeee" stroke-width="0.35"/>
<polygon points="378.40,247.28 380.94,244.52 383.48,247.28 380.94,250.04" fill="#cccccc" stroke="#cccccc" stroke-width="0.35"/>
<polygon points="383.48,252.80 386.02,250.04 388.56,252.80 386.02,255.56" fill="#aaaaaa" stroke="#aaaaaa" stroke-width="0.35"/>
<polygon points="391.10,261.08 393.64,258.32 396.18,261.08 393.64,263.84" fill="#999999" stroke="#999999" stroke-width="0.35"/>
<polygon points="408.88,280.40 411.42,277.64 413.96,280.40 411.42,283.16" fill="#999999" stroke="#999999" stroke-width="0.35"/>
<polygon points="411.42,283.16 413.96,280.40 416.50,283.16 413.96,285.92" fill="#d8d8d8" stroke="#d8d8d8" stroke-width="0.35"/>
<polygon points="380.94,244.52 383.48,241.76 386.02,244.52 383.48,247.28" fill="#999999" stroke="#999999" stroke-width="0.35"/>
<polygon points="393.64,258.32 396.18,255.56 398.72,258.32 396.18,261.08" fill="#bbbbbb" stroke="#bbbbbb" stroke-width="0.35"/>
<polygon points="398.72,252.80 401.26,250.04 403.80,252.80 401.26,255.56" fill="#dddddd" stroke="#dddddd" stroke-width="0.35"/>
<polygon points="416.50,272.12 419.04,269.36 421.58,272.12 419.04,274.88" fill="#cccccc" stroke="#cccccc" stroke-width="0.35"/>
<polygon points="396.18,244.52 398.72,241.76 401.26,244.52 398.72,247.28" fill="#c4c4c4" stroke="#c4c4c4" stroke-width="0.35"/>
<polygon points="416.50,266.60 419.04,263.84 421.58,266.60 419.04,269.36" fill="#cccccc" stroke="#cccccc" stroke-width="0.35"/>
<polygon points="419.04,263.84 421.58,261.08 424.12,263.84 421.58,266.60" fill="#cccccc" stroke="#cccccc" stroke-width="0.35"/>
<polygon points="421.58,266.60 424.12,263.84 426.66,266.60 424.12,269.36" fill="#777777" stroke="#777777" stroke-width="0.35"/>
<polygon points="403.80,241.76 406.34,239.00 408.88,241.76 406.34,244.52" fill="#c8c8c8" stroke="#c8c8c8" stroke-width="0.35"/>
<polygon points="406.34,244.52 408.88,241.76 411.42,244.52 408.88,247.28" fill="#dddddd" stroke="#dddddd" stroke-width="0.35"/>
<polygon points="426.66,255.56 429.20,252.80 431.74,255.56 429.20,258.32" fill="#aaaaaa" stroke="#aaaaaa" stroke-width="0.35"/>
<polygon points="424.12,247.28 426.66,244.52 429.20,247.28 426.66,250.04" fill="#cccccc" stroke="#cccccc" stroke-width="0.35"/>
<polygon points="424.12,241.76 426.66,239.00 429.20,241.76 426.66,244.52" fill="#000000" stroke="#000000" stroke-width="0.35"/>
<polygon points="426.66,244.52 429.20,241.76 431.74,244.52 429.20,247.28" fill="#888888" stroke="#888888" stroke-width="0.35"/>
<polygon points="429.20,247.28 431.74,244.52 434.28,247.28 431.74,250.04" fill="#cccccc" stroke="#cccccc" stroke-width="0.35"/>
<polygon points="429.20,241.76 431.74,239.00 434.28,241.76 431.74,244.52" fill="#777777" stroke="#777777" stroke-width="0.35"/>
<polygon points="431.74,244.52 434.28,241.76 436.82,244.52 434.28,247.28" fill="#bbbbbb" stroke="#bbbbbb" stroke-width="0.35"/>
<polygon points="434.28,241.76 436.82,239.00 439.36,241.76 436.82,244.52" fill="#bbbbbb" stroke="#bbbbbb" stroke-width="0.35"/>
<rect x="224.4" y="235.4" width="231.6" height="4.2" fill="#d9d6ce"/>
<line x1="226.00" y1="237.6" x2="226.00" y2="239.6" stroke="#8a8a88" stroke-width="0.6"/>
<line x1="231.08" y1="237.6" x2="231.08" y2="239.6" stroke="#8a8a88" stroke-width="0.6"/>
<line x1="236.16" y1="237.6" x2="236.16" y2="239.6" stroke="#8a8a88" stroke-width="0.6"/>
<line x1="241.24" y1="237.6" x2="241.24" y2="239.6" stroke="#8a8a88" stroke-width="0.6"/>
<line x1="246.32" y1="237.6" x2="246.32" y2="239.6" stroke="#8a8a88" stroke-width="0.6"/>
<line x1="251.40" y1="237.6" x2="251.40" y2="239.6" stroke="#8a8a88" stroke-width="0.6"/>
<line x1="256.48" y1="237.6" x2="256.48" y2="239.6" stroke="#8a8a88" stroke-width="0.6"/>
<line x1="261.56" y1="237.6" x2="261.56" y2="239.6" stroke="#8a8a88" stroke-width="0.6"/>
<line x1="266.64" y1="237.6" x2="266.64" y2="239.6" stroke="#8a8a88" stroke-width="0.6"/>
<line x1="271.72" y1="237.6" x2="271.72" y2="239.6" stroke="#8a8a88" stroke-width="0.6"/>
<line x1="276.80" y1="237.6" x2="276.80" y2="239.6" stroke="#8a8a88" stroke-width="0.6"/>
<line x1="281.88" y1="237.6" x2="281.88" y2="239.6" stroke="#8a8a88" stroke-width="0.6"/>
<line x1="286.96" y1="237.6" x2="286.96" y2="239.6" stroke="#8a8a88" stroke-width="0.6"/>
<line x1="292.04" y1="237.6" x2="292.04" y2="239.6" stroke="#8a8a88" stroke-width="0.6"/>
<line x1="297.12" y1="237.6" x2="297.12" y2="239.6" stroke="#8a8a88" stroke-width="0.6"/>
<line x1="302.20" y1="237.6" x2="302.20" y2="239.6" stroke="#8a8a88" stroke-width="0.6"/>
<line x1="307.28" y1="237.6" x2="307.28" y2="239.6" stroke="#8a8a88" stroke-width="0.6"/>
<line x1="312.36" y1="237.6" x2="312.36" y2="239.6" stroke="#8a8a88" stroke-width="0.6"/>
<line x1="317.44" y1="237.6" x2="317.44" y2="239.6" stroke="#8a8a88" stroke-width="0.6"/>
<line x1="322.52" y1="237.6" x2="322.52" y2="239.6" stroke="#8a8a88" stroke-width="0.6"/>
<line x1="327.60" y1="237.6" x2="327.60" y2="239.6" stroke="#8a8a88" stroke-width="0.6"/>
<line x1="332.68" y1="237.6" x2="332.68" y2="239.6" stroke="#8a8a88" stroke-width="0.6"/>
<line x1="337.76" y1="237.6" x2="337.76" y2="239.6" stroke="#8a8a88" stroke-width="0.6"/>
<line x1="342.84" y1="237.6" x2="342.84" y2="239.6" stroke="#8a8a88" stroke-width="0.6"/>
<line x1="347.92" y1="237.6" x2="347.92" y2="239.6" stroke="#8a8a88" stroke-width="0.6"/>
<line x1="353.00" y1="237.6" x2="353.00" y2="239.6" stroke="#8a8a88" stroke-width="0.6"/>
<line x1="358.08" y1="237.6" x2="358.08" y2="239.6" stroke="#8a8a88" stroke-width="0.6"/>
<line x1="363.16" y1="237.6" x2="363.16" y2="239.6" stroke="#8a8a88" stroke-width="0.6"/>
<line x1="368.24" y1="237.6" x2="368.24" y2="239.6" stroke="#8a8a88" stroke-width="0.6"/>
<line x1="373.32" y1="237.6" x2="373.32" y2="239.6" stroke="#8a8a88" stroke-width="0.6"/>
<line x1="378.40" y1="237.6" x2="378.40" y2="239.6" stroke="#8a8a88" stroke-width="0.6"/>
<line x1="383.48" y1="237.6" x2="383.48" y2="239.6" stroke="#8a8a88" stroke-width="0.6"/>
<line x1="388.56" y1="237.6" x2="388.56" y2="239.6" stroke="#8a8a88" stroke-width="0.6"/>
<line x1="393.64" y1="237.6" x2="393.64" y2="239.6" stroke="#8a8a88" stroke-width="0.6"/>
<line x1="398.72" y1="237.6" x2="398.72" y2="239.6" stroke="#8a8a88" stroke-width="0.6"/>
<line x1="403.80" y1="237.6" x2="403.80" y2="239.6" stroke="#8a8a88" stroke-width="0.6"/>
<line x1="408.88" y1="237.6" x2="408.88" y2="239.6" stroke="#8a8a88" stroke-width="0.6"/>
<line x1="413.96" y1="237.6" x2="413.96" y2="239.6" stroke="#8a8a88" stroke-width="0.6"/>
<line x1="419.04" y1="237.6" x2="419.04" y2="239.6" stroke="#8a8a88" stroke-width="0.6"/>
<line x1="424.12" y1="237.6" x2="424.12" y2="239.6" stroke="#8a8a88" stroke-width="0.6"/>
<line x1="429.20" y1="237.6" x2="429.20" y2="239.6" stroke="#8a8a88" stroke-width="0.6"/>
<line x1="434.28" y1="237.6" x2="434.28" y2="239.6" stroke="#8a8a88" stroke-width="0.6"/>
<line x1="439.36" y1="237.6" x2="439.36" y2="239.6" stroke="#8a8a88" stroke-width="0.6"/>
<line x1="444.44" y1="237.6" x2="444.44" y2="239.6" stroke="#8a8a88" stroke-width="0.6"/>
<line x1="449.52" y1="237.6" x2="449.52" y2="239.6" stroke="#8a8a88" stroke-width="0.6"/>
<line x1="454.60" y1="237.6" x2="454.60" y2="239.6" stroke="#8a8a88" stroke-width="0.6"/>
<rect x="309.6" y="235.3" width="62" height="4.3" fill="none" stroke="#9a9a9a" stroke-width="0.7"/>
<line x1="309.4" y1="239.8" x2="102" y2="365.3" stroke="#848484" stroke-width="1.45" stroke-dasharray="4.5 0.5"/>
<line x1="372" y1="239.8" x2="663.5" y2="364" stroke="#848484" stroke-width="1.45" stroke-dasharray="4.5 0.5"/>
</g>
<g id="panel-c">
<text x="-1.7" y="367.3" font-size="25.6" font-weight="bold" fill="#000" stroke="#000" stroke-width="0.4">c</text>
<line x1="100.7" y1="373" x2="100.7" y2="980" stroke="#dcb6ae" stroke-width="1.4"/>
<path d="M102.2,980 L102.2,371.8 L661.8,371.8 L661.8,982.4 L103.6,982.4" fill="none" stroke="#888" stroke-width="1.7" stroke-dasharray="4.8 0.7"/>
<text x="385.3" y="381.8" font-size="8.8" text-anchor="middle" fill="#7d1212">Ensembl Gene Predictions - 86</text>
<text x="0.2" y="390.12" font-size="8.7" textLength="94.1" lengthAdjust="spacingAndGlyphs" fill="#c8391f">ENSBTAT00000060639</text>
<text x="0.2" y="400.62" font-size="8.7" textLength="94.1" lengthAdjust="spacingAndGlyphs" fill="#c8391f">ENSBTAT00000006646</text>
<text x="0.2" y="411.37" font-size="8.7" textLength="94.1" lengthAdjust="spacingAndGlyphs" fill="#c8391f">ENSBTAT00000027503</text>
<text x="0.2" y="421.92" font-size="8.7" textLength="94.1" lengthAdjust="spacingAndGlyphs" fill="#c8391f">ENSBTAT00000006653</text>
<text x="0.2" y="432.42" font-size="8.7" textLength="94.1" lengthAdjust="spacingAndGlyphs" fill="#c8391f">ENSBTAT00000007710</text>
<text x="0.2" y="443.32" font-size="8.7" textLength="94.1" lengthAdjust="spacingAndGlyphs" fill="#c8391f">ENSBTAT00000023483</text>
<text x="0.2" y="453.82" font-size="8.7" textLength="94.1" lengthAdjust="spacingAndGlyphs" fill="#c8391f">ENSBTAT00000060181</text>
<text x="0.2" y="464.42" font-size="8.7" textLength="94.1" lengthAdjust="spacingAndGlyphs" fill="#c8391f">ENSBTAT00000063248</text>
<text x="0.2" y="475.22" font-size="8.7" textLength="94.1" lengthAdjust="spacingAndGlyphs" fill="#c8391f">ENSBTAT00000021009</text>
<text x="0.2" y="486.02" font-size="8.7" textLength="94.1" lengthAdjust="spacingAndGlyphs" fill="#c8391f">ENSBTAT00000021012</text>
<text x="0.2" y="496.72" font-size="8.7" textLength="94.1" lengthAdjust="spacingAndGlyphs" fill="#c8391f">ENSBTAT00000066133</text>
<text x="0.2" y="507.32" font-size="8.7" textLength="94.1" lengthAdjust="spacingAndGlyphs" fill="#c8391f">ENSBTAT00000065414</text>
<text x="0.2" y="518.12" font-size="8.7" textLength="94.1" lengthAdjust="spacingAndGlyphs" fill="#c8391f">ENSBTAT00000030053</text>
<text x="0.2" y="528.92" font-size="8.7" textLength="94.1" lengthAdjust="spacingAndGlyphs" fill="#c8391f">ENSBTAT00000052805</text>
<text x="0.2" y="539.52" font-size="8.7" textLength="94.1" lengthAdjust="spacingAndGlyphs" fill="#c8391f">ENSBTAT00000030064</text>
<text x="0.2" y="550.32" font-size="8.7" textLength="94.1" lengthAdjust="spacingAndGlyphs" fill="#c8391f">ENSBTAT00000045162</text>
<text x="0.2" y="560.87" font-size="8.7" textLength="94.1" lengthAdjust="spacingAndGlyphs" fill="#c8391f">ENSBTAT00000015740</text>
<text x="0.2" y="571.42" font-size="8.7" textLength="94.1" lengthAdjust="spacingAndGlyphs" fill="#c8391f">ENSBTAT00000045129</text>
<text x="0.2" y="582.02" font-size="8.7" textLength="94.1" lengthAdjust="spacingAndGlyphs" fill="#c8391f">ENSBTAT00000012232</text>
<text x="0.2" y="592.72" font-size="8.7" textLength="94.1" lengthAdjust="spacingAndGlyphs" fill="#c8391f">ENSBTAT00000012234</text>
<text x="0.2" y="603.62" font-size="8.7" textLength="94.1" lengthAdjust="spacingAndGlyphs" fill="#c8391f">ENSBTAT00000012236</text>
<text x="0.2" y="614.12" font-size="8.7" textLength="94.1" lengthAdjust="spacingAndGlyphs" fill="#c8391f">ENSBTAT00000024034</text>
<text x="0.2" y="624.72" font-size="8.7" textLength="94.1" lengthAdjust="spacingAndGlyphs" fill="#c8391f">ENSBTAT00000024047</text>
<text x="0.2" y="635.47" font-size="8.7" textLength="94.1" lengthAdjust="spacingAndGlyphs" fill="#c8391f">ENSBTAT00000060104</text>
<text x="0.2" y="646.12" font-size="8.7" textLength="94.1" lengthAdjust="spacingAndGlyphs" fill="#c8391f">ENSBTAT00000062988</text>
<text x="0.2" y="657.02" font-size="8.7" textLength="94.1" lengthAdjust="spacingAndGlyphs" fill="#c8391f">ENSBTAT00000006178</text>
<text x="0.2" y="669.02" font-size="8.7" textLength="94.1" lengthAdjust="spacingAndGlyphs" fill="#c8391f">ENSBTAT00000004135</text>
<text x="0.2" y="679.52" font-size="8.7" textLength="94.1" lengthAdjust="spacingAndGlyphs" fill="#c8391f">ENSBTAT00000017618</text>
<text x="0.2" y="690.62" font-size="8.7" textLength="94.1" lengthAdjust="spacingAndGlyphs" fill="#c8391f">ENSBTAT00000017619</text>
<text x="0.2" y="701.12" font-size="8.7" textLength="94.1" lengthAdjust="spacingAndGlyphs" fill="#c8391f">ENSBTAT00000045038</text>
<text x="0.2" y="711.72" font-size="8.7" textLength="94.1" lengthAdjust="spacingAndGlyphs" fill="#c8391f">ENSBTAT00000024618</text>
<text x="0.2" y="722.62" font-size="8.7" textLength="94.1" lengthAdjust="spacingAndGlyphs" fill="#c8391f">ENSBTAT00000024621</text>
<text x="0.2" y="733.12" font-size="8.7" textLength="94.1" lengthAdjust="spacingAndGlyphs" fill="#c8391f">ENSBTAT00000003591</text>
<text x="0.2" y="743.72" font-size="8.7" textLength="94.1" lengthAdjust="spacingAndGlyphs" fill="#c8391f">ENSBTAT00000045026</text>
<text x="0.2" y="754.42" font-size="8.7" textLength="94.1" lengthAdjust="spacingAndGlyphs" fill="#c8391f">ENSBTAT00000006032</text>
<text x="0.2" y="765.32" font-size="8.7" textLength="94.1" lengthAdjust="spacingAndGlyphs" fill="#c8391f">ENSBTAT00000006035</text>
<text x="-0.6" y="776.02" font-size="8.7" textLength="94.1" lengthAdjust="spacingAndGlyphs" fill="#cf4a30">ENSBTAT00000011882</text>
<text x="-0.6" y="786.62" font-size="8.7" textLength="94.1" lengthAdjust="spacingAndGlyphs" fill="#cf4a30">ENSBTAT00000010247</text>
<text x="-0.6" y="797.12" font-size="8.7" textLength="94.1" lengthAdjust="spacingAndGlyphs" fill="#cf4a30">ENSBTAT00000062777</text>
<text x="-0.6" y="807.92" font-size="8.7" textLength="94.1" lengthAdjust="spacingAndGlyphs" fill="#cf4a30">ENSBTAT00000011237</text>
<text x="-0.6" y="818.62" font-size="8.7" textLength="94.1" lengthAdjust="spacingAndGlyphs" fill="#cf4a30">ENSBTAT00000055603</text>
<text x="-0.6" y="829.52" font-size="8.7" textLength="94.1" lengthAdjust="spacingAndGlyphs" fill="#cf4a30">ENSBTAT00000060169</text>
<text x="-0.6" y="840.02" font-size="8.7" textLength="94.1" lengthAdjust="spacingAndGlyphs" fill="#cf4a30">ENSBTAT00000003317</text>
<text x="-0.6" y="850.82" font-size="8.7" textLength="94.1" lengthAdjust="spacingAndGlyphs" fill="#cf4a30">ENSBTAT00000065422</text>
<text x="-0.6" y="861.42" font-size="8.7" textLength="94.1" lengthAdjust="spacingAndGlyphs" fill="#cf4a30">ENSBTAT00000003318</text>
<text x="-0.6" y="872.22" font-size="8.7" textLength="94.1" lengthAdjust="spacingAndGlyphs" fill="#cf4a30">ENSBTAT00000003319</text>
<text x="-0.6" y="882.92" font-size="8.7" textLength="94.1" lengthAdjust="spacingAndGlyphs" fill="#cf4a30">ENSBTAT00000003321</text>
<text x="-0.6" y="893.22" font-size="8.7" textLength="94.1" lengthAdjust="spacingAndGlyphs" fill="#cf4a30">ENSBTAT00000003325</text>
<text x="-0.6" y="903.92" font-size="8.7" textLength="94.1" lengthAdjust="spacingAndGlyphs" fill="#cf4a30">ENSBTAT00000017659</text>
<text x="-0.6" y="914.72" font-size="8.7" textLength="94.1" lengthAdjust="spacingAndGlyphs" fill="#cf4a30">ENSBTAT00000021425</text>
<text x="-0.6" y="925.72" font-size="8.7" textLength="94.1" lengthAdjust="spacingAndGlyphs" fill="#cf4a30">ENSBTAT00000021427</text>
<text x="-0.6" y="937.42" font-size="8.7" textLength="94.1" lengthAdjust="spacingAndGlyphs" fill="#cf4a30">ENSBTAT00000021428</text>
<text x="-0.6" y="948.22" font-size="8.7" textLength="94.1" lengthAdjust="spacingAndGlyphs" fill="#cf4a30">ENSBTAT00000021433</text>
<text x="-0.6" y="958.72" font-size="8.7" textLength="94.1" lengthAdjust="spacingAndGlyphs" fill="#cf4a30">ENSBTAT00000044871</text>
<text x="-0.6" y="969.52" font-size="8.7" textLength="94.1" lengthAdjust="spacingAndGlyphs" fill="#cf4a30">ENSBTAT00000017660</text>
<text x="-0.6" y="980.02" font-size="8.7" textLength="94.1" lengthAdjust="spacingAndGlyphs" fill="#cf4a30">ENSBTAT00000028107</text>
<rect x="117.88" y="385" width="1.44" height="6.20" fill="#8b0a0a"/>
<rect x="133.5" y="393.25" width="5.25" height="10.00" fill="#8b0a0a"/>
<rect x="150" y="404.25" width="3.25" height="10.00" fill="#8b0a0a"/>
<rect x="153.25" y="415" width="2.50" height="9.50" fill="#8b0a0a"/>
<rect x="158.88" y="425.5" width="1.44" height="10.00" fill="#8b0a0a"/>
<rect x="166.88" y="425.5" width="1.44" height="10.00" fill="#8b0a0a"/>
<rect x="170.25" y="425.5" width="1.50" height="10.00" fill="#8b0a0a"/>
<rect x="159.6" y="429.9" width="11.40" height="1.20" fill="#8b0a0a"/>
<rect x="164.78" y="436.25" width="1.44" height="9.50" fill="#8b0a0a"/>
<rect x="166.53" y="449" width="1.44" height="5.50" fill="#8b0a0a"/>
<rect x="215.405" y="457.5" width="1.44" height="10.00" fill="#8b0a0a"/>
<rect x="235.5" y="468" width="3.25" height="10.25" fill="#8b0a0a"/>
<rect x="240" y="478.75" width="3.00" height="10.00" fill="#8b0a0a"/>
<rect x="244.28" y="478.75" width="1.44" height="10.00" fill="#8b0a0a"/>
<rect x="243" y="487" width="2.00" height="1.00" fill="#8b0a0a"/>
<rect x="239.5" y="489.5" width="3.50" height="10.00" fill="#8b0a0a"/>
<rect x="244.28" y="490" width="1.44" height="7.00" fill="#8b0a0a"/>
<rect x="243" y="494" width="2.00" height="1.00" fill="#8b0a0a"/>
<rect x="244.73" y="502.5" width="1.44" height="5.50" fill="#8b0a0a"/>
<rect x="245.48" y="510.75" width="1.44" height="10.00" fill="#8b0a0a"/>
<rect x="247.88" y="510.75" width="1.44" height="10.00" fill="#8b0a0a"/>
<rect x="246.2" y="515.15" width="2.40" height="1.20" fill="#8b0a0a"/>
<rect x="272.53" y="523.25" width="1.44" height="6.75" fill="#8b0a0a"/>
<rect x="274.33" y="532.5" width="1.44" height="10.00" fill="#8b0a0a"/>
<rect x="275.5" y="535" width="1.80" height="5.00" fill="#8b0a0a"/>
<rect x="305.5" y="543" width="3.75" height="10.00" fill="#8b0a0a"/>
<rect x="321.75" y="553.75" width="3.50" height="10.50" fill="#8b0a0a"/>
<rect x="327.5" y="564.5" width="3.75" height="10.00" fill="#8b0a0a"/>
<rect x="345" y="575" width="5.00" height="10.00" fill="#8b0a0a"/>
<rect x="349.5" y="585.75" width="3.00" height="9.75" fill="#8b0a0a"/>
<rect x="352.4" y="596.75" width="2.20" height="10.00" fill="#8b0a0a"/>
<rect x="356.28" y="596.75" width="1.44" height="10.00" fill="#8b0a0a"/>
<rect x="353.5" y="601.15" width="3.50" height="1.20" fill="#8b0a0a"/>
<rect x="362.5" y="607" width="2.00" height="10.00" fill="#8b0a0a"/>
<rect x="369.25" y="618" width="3.75" height="10.00" fill="#8b0a0a"/>
<rect x="382.28" y="630.5" width="1.44" height="5.75" fill="#c46a6a"/>
<rect x="391.5" y="639" width="6.00" height="10.25" fill="#8b0a0a"/>
<rect x="397.4" y="650" width="1.60" height="10.00" fill="#8b0a0a"/>
<rect x="400.8" y="650" width="1.60" height="10.00" fill="#8b0a0a"/>
<rect x="398.2" y="654.4" width="3.40" height="1.20" fill="#8b0a0a"/>
<rect x="446.25" y="660" width="2.00" height="10.50" fill="#8b0a0a"/>
<rect x="451.25" y="671.25" width="8.25" height="10.00" fill="#8b0a0a"/>
<rect x="459.53" y="682" width="1.44" height="10.00" fill="#8b0a0a"/>
<rect x="460.05" y="692.5" width="1.50" height="10.00" fill="#c46a6a"/>
<rect x="462.25" y="692.5" width="1.50" height="10.00" fill="#c46a6a"/>
<rect x="460.8" y="696.9" width="2.20" height="1.20" fill="#c46a6a"/>
<rect x="488.25" y="703" width="2.25" height="10.75" fill="#8b0a0a"/>
<rect x="489.25" y="714.25" width="3.25" height="10.00" fill="#8b0a0a"/>
<rect x="491.2" y="724.5" width="2.00" height="10.50" fill="#8b0a0a"/>
<rect x="494.28" y="724.5" width="1.44" height="10.50" fill="#8b0a0a"/>
<rect x="492.2" y="729.15" width="2.80" height="1.20" fill="#8b0a0a"/>
<rect x="492.1" y="735.5" width="1.80" height="10.00" fill="#8b0a0a"/>
<rect x="494.28" y="735.5" width="1.44" height="10.00" fill="#8b0a0a"/>
<rect x="493" y="739.9" width="2.00" height="1.20" fill="#8b0a0a"/>
<rect x="495" y="746.25" width="3.25" height="10.00" fill="#8b0a0a"/>
<rect x="498.25" y="756.75" width="4.25" height="10.00" fill="#8b0a0a"/>
<rect x="504.28" y="756.75" width="1.44" height="10.00" fill="#8b0a0a"/>
<rect x="506.28" y="756.75" width="1.44" height="10.00" fill="#8b0a0a"/>
<rect x="508.28" y="756.75" width="1.44" height="10.00" fill="#8b0a0a"/>
<rect x="505" y="761.15" width="4.00" height="1.20" fill="#8b0a0a"/>
<rect x="510.5" y="767.5" width="3.50" height="10.00" fill="#8b0a0a"/>
<rect x="514.5" y="778" width="9.00" height="10.25" fill="#8b0a0a"/>
<rect x="523.73" y="790.5" width="1.44" height="5.75" fill="#8b0a0a"/>
<rect x="527.88" y="798.75" width="1.44" height="10.75" fill="#8b0a0a"/>
<rect x="529.88" y="798.75" width="1.44" height="10.75" fill="#8b0a0a"/>
<rect x="531.78" y="798.75" width="1.44" height="10.75" fill="#8b0a0a"/>
<rect x="528.6" y="803.525" width="3.90" height="1.20" fill="#8b0a0a"/>
<rect x="526.88" y="809.5" width="1.44" height="10.50" fill="#8b0a0a"/>
<rect x="528.8000000000001" y="809.5" width="1.60" height="10.50" fill="#8b0a0a"/>
<rect x="531.0799999999999" y="809.5" width="1.44" height="10.50" fill="#8b0a0a"/>
<rect x="527.6" y="814.15" width="4.20" height="1.20" fill="#8b0a0a"/>
<rect x="528.655" y="822.5" width="1.44" height="6.25" fill="#8b0a0a"/>
<rect x="540.75" y="831.25" width="3.25" height="10.50" fill="#8b0a0a"/>
<rect x="540.75" y="841.75" width="2.75" height="10.75" fill="#8b0a0a"/>
<rect x="543.905" y="852.5" width="1.44" height="10.00" fill="#8b0a0a"/>
<rect x="545" y="863.25" width="2.50" height="10.50" fill="#8b0a0a"/>
<rect x="551.78" y="874.5" width="1.44" height="8.00" fill="#8b0a0a"/>
<rect x="554.25" y="885" width="3.25" height="10.00" fill="#8b0a0a"/>
<rect x="565.5" y="895.5" width="2.00" height="10.00" fill="#8b0a0a"/>
<rect x="568" y="906.25" width="2.50" height="10.00" fill="#8b0a0a"/>
<rect x="569.25" y="916.75" width="3.75" height="10.25" fill="#8b0a0a"/>
<rect x="574.25" y="927.5" width="4.25" height="10.00" fill="#8b0a0a"/>
<rect x="579.25" y="938" width="10.50" height="10.25" fill="#8b0a0a"/>
<rect x="591.2" y="949.25" width="1.60" height="10.25" fill="#8b0a0a"/>
<rect x="594.8" y="949.25" width="2.40" height="10.25" fill="#8b0a0a"/>
<rect x="592" y="953.775" width="4.00" height="1.20" fill="#8b0a0a"/>
<rect x="597.5" y="959.5" width="3.00" height="10.00" fill="#8b0a0a"/>
<rect x="604.2" y="970.5" width="1.60" height="10.00" fill="#8b0a0a"/>
<rect x="609.7" y="970.5" width="1.80" height="10.00" fill="#8b0a0a"/>
<rect x="605" y="974.9" width="5.60" height="1.20" fill="#8b0a0a"/>
</g>
<rect x="101.6" y="988" width="560.8" height="8.8" fill="#ee33cc"/>
<text x="388.8" y="1013.1" font-size="10.55" font-weight="bold" text-anchor="middle" fill="#d81cca" stroke="#d81cca" stroke-width="0.25">LD block = 1.45 Mb</text>
<text x="611" y="913" font-size="10.6" font-style="italic" fill="#ee33cc" stroke="#ee33cc" stroke-width="0.2">FOXP3</text>
<line x1="619.5" y1="920" x2="603.6" y2="953" stroke="#ee33cc" stroke-width="1.7" stroke-dasharray="3.2 1.1"/>
<polygon points="601,959 600.2,950.8 606.8,954" fill="#ee33cc"/>
</svg></body></html>
